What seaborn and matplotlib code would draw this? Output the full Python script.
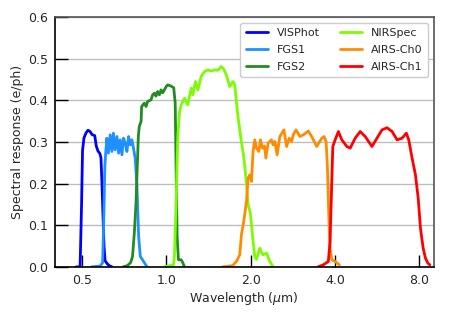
import numpy as np
import pandas as pd
import matplotlib
matplotlib.use("Agg")
import matplotlib.pyplot as plt
import seaborn as sns
from matplotlib.ticker import FixedLocator, FixedFormatter, NullFormatter

# wavelength (um) and spectral response (e/ph)
visphot_wl = [0.476, 0.492, 0.498, 0.502, 0.508, 0.517, 0.525, 0.534, 0.542, 0.555,
              0.562, 0.570, 0.579, 0.584, 0.589, 0.594, 0.599, 0.604, 0.614, 0.625, 0.640]
visphot_r = [0.0, 0.0, 0.15, 0.28, 0.31, 0.322, 0.328, 0.325, 0.318, 0.315,
             0.29, 0.278, 0.272, 0.262, 0.2, 0.12, 0.05, 0.015, 0.008, 0.003, 0.0]

fgs1_wl = [0.540, 0.580, 0.592, 0.598, 0.603, 0.607, 0.613, 0.621, 0.630, 0.639,
           0.647, 0.656, 0.666, 0.675, 0.684, 0.694, 0.703, 0.713, 0.723, 0.733,
           0.743, 0.753, 0.763, 0.774, 0.785, 0.796, 0.807, 0.829, 0.853]
fgs1_r = [0.0, 0.002, 0.01, 0.12, 0.24, 0.273, 0.309, 0.273, 0.317, 0.277,
          0.321, 0.281, 0.313, 0.273, 0.305, 0.269, 0.309, 0.297, 0.277, 0.313,
          0.293, 0.305, 0.285, 0.26, 0.193, 0.073, 0.025, 0.013, 0.0]

fgs2_wl = [0.70, 0.725, 0.745, 0.757, 0.768, 0.779, 0.787, 0.794, 0.800, 0.812,
           0.816, 0.834, 0.846, 0.857, 0.881, 0.893, 0.906, 0.918, 0.930, 0.944,
           0.957, 0.970, 0.984, 0.998, 1.011, 1.039, 1.062, 1.075, 1.083, 1.092,
           1.104, 1.129, 1.144, 1.160]
fgs2_r = [0.0, 0.003, 0.01, 0.025, 0.08, 0.153, 0.24, 0.313, 0.337, 0.349,
          0.385, 0.393, 0.385, 0.397, 0.401, 0.413, 0.417, 0.41, 0.421, 0.413,
          0.425, 0.418, 0.425, 0.433, 0.437, 0.434, 0.43, 0.393, 0.233, 0.073,
          0.017, 0.017, 0.01, 0.0]

nirspec_wl = [0.98, 1.06, 1.068, 1.083, 1.098, 1.113, 1.129, 1.144, 1.160, 1.192,
              1.226, 1.242, 1.270, 1.295, 1.331, 1.368, 1.406, 1.446, 1.486, 1.527,
              1.570, 1.601, 1.636, 1.682, 1.728, 1.753, 1.801, 1.852, 1.888, 1.931,
              1.956, 1.995, 2.038, 2.067, 2.096, 2.154, 2.185, 2.214, 2.277, 2.339, 2.403]
nirspec_r = [0.0, 0.005, 0.025, 0.153, 0.313, 0.37, 0.389, 0.397, 0.405, 0.389,
             0.429, 0.413, 0.445, 0.425, 0.457, 0.469, 0.473, 0.470, 0.473, 0.472,
             0.481, 0.475, 0.461, 0.433, 0.445, 0.437, 0.36, 0.30, 0.265, 0.2,
             0.15, 0.128, 0.061, 0.025, 0.018, 0.045, 0.035, 0.029, 0.033, 0.013, 0.0]

ch0_wl = [1.587, 1.724, 1.778, 1.827, 1.852, 1.888, 1.931, 1.956, 1.983, 2.012,
          2.038, 2.067, 2.096, 2.136, 2.166, 2.202, 2.239, 2.264, 2.306, 2.372,
          2.403, 2.438, 2.484, 2.540, 2.626, 2.685, 2.743, 2.798, 2.836, 2.900,
          2.996, 3.080, 3.209, 3.301, 3.438, 3.585, 3.653, 3.714, 3.752, 3.797,
          3.838, 3.892, 4.0, 4.143]
ch0_r = [0.0, 0.003, 0.013, 0.029, 0.077, 0.109, 0.157, 0.213, 0.221, 0.205,
         0.277, 0.305, 0.285, 0.277, 0.305, 0.285, 0.29, 0.261, 0.297, 0.305,
         0.293, 0.301, 0.269, 0.313, 0.329, 0.289, 0.309, 0.301, 0.317, 0.329,
         0.313, 0.317, 0.326, 0.313, 0.289, 0.309, 0.313, 0.301, 0.245, 0.125,
         0.045, 0.017, 0.013, 0.005]

ch1_wl = [3.476, 3.633, 3.783, 3.838, 3.892, 3.925, 4.0, 4.110, 4.227, 4.405,
          4.528, 4.717, 4.915, 5.123, 5.414, 5.642, 5.880, 6.128, 6.387, 6.656,
          6.936, 7.185, 7.325, 7.531, 7.740, 7.917, 8.066, 8.247, 8.404, 8.57, 8.71]
ch1_r = [0.0, 0.005, 0.013, 0.061, 0.205, 0.289, 0.305, 0.325, 0.305, 0.289,
         0.285, 0.309, 0.325, 0.313, 0.289, 0.309, 0.329, 0.334, 0.325, 0.305,
         0.309, 0.321, 0.305, 0.261, 0.221, 0.165, 0.093, 0.045, 0.021, 0.009, 0.005]

names = ["VISPhot", "FGS1", "FGS2", "NIRSpec", "AIRS-Ch0", "AIRS-Ch1"]
colors = ["#0000ff", "dodgerblue", "forestgreen", "lawngreen", "darkorange", "red"]

x_ticks = [0.5, 1.0, 2.0, 4.0, 8.0]
x_minor = [0.6, 0.7, 0.8, 0.9, 3.0, 5.0, 6.0, 7.0]
y_ticks = [0.0, 0.1, 0.2, 0.3, 0.4, 0.5, 0.6]

series = [(visphot_wl, visphot_r), (fgs1_wl, fgs1_r), (fgs2_wl, fgs2_r),
          (nirspec_wl, nirspec_r), (ch0_wl, ch0_r), (ch1_wl, ch1_r)]
frames = []
for name, (wl, r) in zip(names, series):
    frames.append(pd.DataFrame({"wl": wl, "resp": r, "inst": name}))
df = pd.concat(frames, ignore_index=True)

sns.set_theme(style="white")
plt.rcParams["font.family"] = ["DejaVu Sans"]

fig = plt.figure(figsize=(4.5, 3.2), dpi=100)
ax = fig.add_axes([0.122, 0.166, 0.842, 0.781])

sns.lineplot(data=df, x="wl", y="resp", hue="inst", hue_order=names,
             palette=colors, sort=False, estimator=None, lw=2, ax=ax)

ax.set_xscale("log")
ax.set_xlim(0.4, 9.0)
ax.set_ylim(0, 0.6)
ax.xaxis.set_major_locator(FixedLocator(x_ticks))
ax.xaxis.set_major_formatter(FixedFormatter([f"{t:.1f}" for t in x_ticks]))
ax.xaxis.set_minor_locator(FixedLocator(x_minor))
ax.xaxis.set_minor_formatter(NullFormatter())
ax.set_yticks(y_ticks)
ax.set_yticklabels([f"{t:.1f}" for t in y_ticks])

ax.tick_params(axis="both", which="major", direction="in", length=9, width=1,
               color="black", labelsize=9, pad=5)
ax.tick_params(axis="x", which="minor", direction="in", length=5, width=1, color="black")
ax.tick_params(bottom=True, left=True, top=False, right=False)

ax.yaxis.grid(True, color="#bdbdbd", lw=1)
ax.set_axisbelow(True)
for side in ["left", "bottom"]:
    ax.spines[side].set_color("black")
    ax.spines[side].set_linewidth(1.2)
for side in ["top", "right"]:
    ax.spines[side].set_color("#555555")
    ax.spines[side].set_linewidth(1.2)

ax.set_xlabel("Wavelength ($\\mu$m)", fontsize=9, labelpad=2)
ax.set_ylabel("Spectral response (e/ph)", fontsize=9, labelpad=3)

handles, labels = ax.get_legend_handles_labels()
ax.legend(handles, labels, loc="upper right", ncol=2, fontsize=8,
          frameon=True, framealpha=1, edgecolor="#cccccc", fancybox=True,
          handlelength=2.0, columnspacing=1.8, labelspacing=0.62,
          borderpad=0.5)

fig.savefig("out.png", dpi=100)
